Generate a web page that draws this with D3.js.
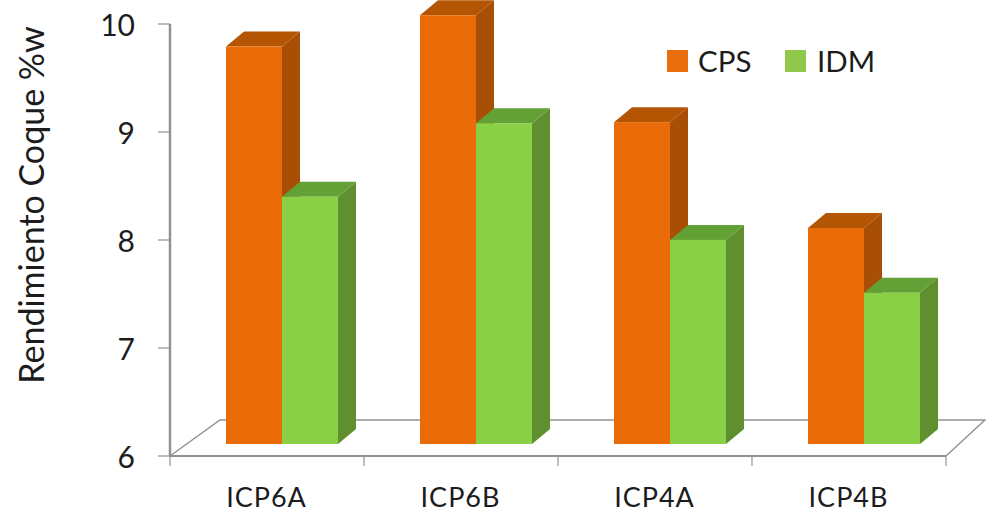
<!DOCTYPE html>
<html>
<head>
<meta charset="utf-8">
<script src="https://cdn.jsdelivr.net/npm/d3@7/dist/d3.min.js"></script>
<style>
html, body { margin: 0; padding: 0; background: #fff; }
svg { display: block; }
text { font-family: Lato, "Open Sans", sans-serif; fill: #1c1c1c; }
</style>
</head>
<body>
<svg id="chart" width="986" height="514"></svg>
<script>
const categories = ["ICP6A", "ICP6B", "ICP4A", "ICP4B"];
const seriesNames = ["CPS", "IDM"];
const cpsValues = [9.68, 9.97, 8.98, 8.0];
const idmValues = [8.29, 8.97, 7.89, 7.4];
const yTicks = [6, 7, 8, 9, 10];

const palette = {
  CPS: { front: "#ea6c08", side: "#a94f05", top: "#b45504", key: "#e96f0e" },
  IDM: { front: "#89d046", side: "#5f8f2e", top: "#63a035", key: "#8fc84a" }
};

const svg = d3.select("#chart");

// Front plane of the axes, plus the depth of the floor and of each column
const plot = { left: 170, right: 946, top: 24, bottom: 456 };
const floorBack = { left: 220, right: 985, y: 420 };
const barDepth = { dx: 18, dy: -15 };
const barLift = 12;
const barShift = 15;

const x = d3.scaleBand().domain(categories).range([plot.left, plot.right]);
const inner = d3.scaleBand().domain(seriesNames).range([0, 112]);
const y = d3.scaleLinear().domain([6, 10]).range([plot.bottom, plot.top]);

const axisColor = "#929292";
const axes = svg.append("g").attr("fill", "none").attr("stroke", axisColor);

// Floor outline
const floorPath = d3.path();
floorPath.moveTo(plot.left, plot.bottom);
floorPath.lineTo(floorBack.left, floorBack.y);
floorPath.lineTo(floorBack.right, floorBack.y);
floorPath.lineTo(plot.right, plot.bottom);
axes.append("path").attr("d", floorPath.toString()).attr("stroke-width", 1.5);
axes.append("line")
  .attr("x1", plot.left).attr("x2", plot.right)
  .attr("y1", plot.bottom).attr("y2", plot.bottom)
  .attr("stroke-width", 2);

// Vertical axis with its ticks
axes.append("line").attr("x1", plot.left).attr("x2", plot.left)
  .attr("y1", plot.top).attr("y2", plot.bottom)
  .attr("stroke-width", 2.5);
axes.selectAll("line.ytick").data(yTicks).join("line")
  .attr("class", "ytick")
  .attr("x1", plot.left - 12).attr("x2", plot.left)
  .attr("y1", d => y(d)).attr("y2", d => y(d))
  .attr("stroke-width", 1.2);

// Category ticks along the front edge
const edges = categories.map(c => x(c)).concat(plot.right);
axes.selectAll("line.xtick").data(edges).join("line")
  .attr("class", "xtick")
  .attr("x1", d => d).attr("x2", d => d)
  .attr("y1", plot.bottom).attr("y2", plot.bottom + 10)
  .attr("stroke-width", 1.2);

// Columns: side and top faces first, then the front face
const rows = categories.flatMap((c, i) => [
  { category: c, series: "CPS", value: cpsValues[i] },
  { category: c, series: "IDM", value: idmValues[i] }
]);
const bars = svg.append("g").selectAll("g").data(rows).join("g");

bars.each(function (d) {
  const g = d3.select(this);
  const colors = palette[d.series];
  const x0 = x(d.category) + barShift + inner(d.series) + (x.bandwidth() - inner.range()[1]) / 2;
  const x1 = x0 + inner.bandwidth();
  const yTop = y(d.value) - barLift;
  const yBase = y(6) - barLift;
  const { dx, dy } = barDepth;

  g.append("polygon").attr("fill", colors.side)
    .attr("points", [[x1, yTop], [x1 + dx, yTop + dy], [x1 + dx, yBase + dy], [x1, yBase]].join(" "));
  g.append("polygon").attr("fill", colors.top)
    .attr("points", [[x0, yTop], [x0 + dx, yTop + dy], [x1 + dx, yTop + dy], [x1, yTop]].join(" "));
  g.append("rect").attr("fill", colors.front)
    .attr("x", x0).attr("y", yTop)
    .attr("width", x1 - x0).attr("height", yBase - yTop);
});

// Value axis labels
svg.append("g").selectAll("text").data(yTicks).join("text")
  .attr("x", 135).attr("y", d => y(d) + 12)
  .attr("text-anchor", "end").attr("font-size", 30)
  .text(d => d);

// Category labels
svg.append("g").selectAll("text").data(categories).join("text")
  .attr("x", c => x(c) + x.bandwidth() / 2 - 0.5).attr("y", 507)
  .attr("text-anchor", "middle").attr("font-size", 27)
  .attr("letter-spacing", 1)
  .text(c => c);

// Axis title
svg.append("text")
  .attr("transform", "translate(44,205) rotate(-90)")
  .attr("text-anchor", "middle").attr("font-size", 34)
  .text("Rendimiento Coque %w");

// Legend
const legendX = d3.scaleOrdinal().domain(seriesNames).range([667, 785]);
const legend = svg.append("g").selectAll("g").data(seriesNames).join("g")
  .attr("transform", s => `translate(${legendX(s)},50)`);
legend.append("rect").attr("width", 21).attr("height", 22)
  .attr("fill", s => palette[s].key);
legend.append("text").attr("x", s => s === "CPS" ? 31 : 32).attr("y", 22)
  .attr("font-size", 29.5).text(s => s);
</script>
</body>
</html>
